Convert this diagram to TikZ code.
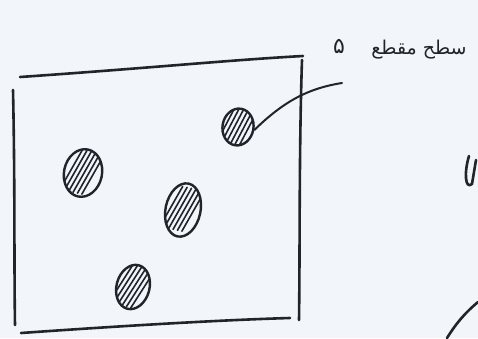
\documentclass[tikz,border=0pt]{standalone}
\usepackage{fontspec}
\newfontfamily\arabicfont[Script=Arabic]{DejaVu Sans}
\TeXXeTstate=1
\usetikzlibrary{shapes.geometric,calc}
\definecolor{paper}{HTML}{F2F6FA}
\definecolor{ink}{HTML}{20242B}
\tikzset{
  ink/.style={draw=ink, line width=2.6pt, line cap=round, line join=round},
  hole/.style={ellipse, draw=ink, line width=2.4pt, inner sep=0pt,
    path picture={\foreach \d in {-12,-7.5,...,12}
      \draw[ink, line width=1.6pt] ([xshift=\d pt]path picture bounding box.center) ++(-7pt,-22pt) -- ++(14pt,44pt);}},
  lbl/.style={text=ink, inner sep=0pt}
}
\begin{document}
\begin{tikzpicture}[x=1pt,y=-1pt]
\fill[paper] (0,0) rectangle (478,338);
\useasboundingbox (0,0) rectangle (478,338);
% hand-drawn frame
\draw[ink] (20,77) .. controls (150,68) and (230,60) .. (303,56);
\draw[ink] (13,90) .. controls (15,180) and (14,260) .. (15,325);
\draw[ink] (302,60) .. controls (299,150) and (300,250) .. (299,320);
\draw[ink] (21,333) .. controls (120,326) and (220,320) .. (290,318);
% hatched spots
\node[hole, minimum width=31pt, minimum height=37pt, rotate=-10] (h1) at (238,127) {};
\node[hole, minimum width=38pt, minimum height=48pt, rotate=-12] (h2) at (83,173) {};
\node[hole, minimum width=35pt, minimum height=54pt, rotate=-12] (h3) at (183,210) {};
\node[hole, minimum width=33pt, minimum height=45pt, rotate=-15] (h4) at (133,287) {};
% leader line and label
\coordinate (tip) at (342,83);
\draw[ink, line width=2pt] (h1.east) .. controls (285,100) and (310,88) .. (tip);
\node[lbl, font=\arabicfont\fontsize{22}{24}\selectfont] (t5) at (339,46) {\beginR ۵\endR};
\node[lbl, font=\arabicfont\fontsize{19}{22}\selectfont] (tt) at (419,50) {\beginR سطح مقطع\endR};
% marks at right edge
\draw[ink] (469,156) .. controls (464,172) and (465,190) .. (472,184) -- (476,160);
\draw[ink] (447,338) .. controls (457,322) and (466,312) .. (478,302);
\end{tikzpicture}
\end{document}
